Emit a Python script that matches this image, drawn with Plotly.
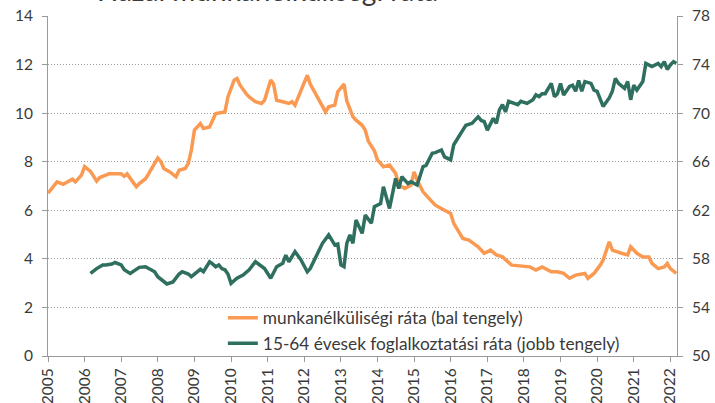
import plotly.graph_objects as go

# Unemployment rate (left axis, %)
unemp_dates = ["2005-01","2005-03","2005-04","2005-06","2005-08","2005-09","2005-10","2005-12",
"2006-01","2006-03","2006-05","2006-06","2006-08","2006-09","2007-01","2007-02","2007-03","2007-04",
"2007-06","2007-07","2007-09","2007-10","2007-12","2008-01","2008-02","2008-03","2008-05","2008-07",
"2008-08","2008-10","2008-11","2008-12","2009-01","2009-03","2009-04","2009-06","2009-08","2009-09",
"2009-11","2009-12","2010-02","2010-03","2010-04","2010-06","2010-07","2010-09","2010-11","2010-12",
"2011-02","2011-03","2011-04","2011-06","2011-08","2011-09","2011-10","2011-12","2012-02","2012-03",
"2012-05","2012-07","2012-08","2012-09","2012-11","2012-12","2013-02","2013-03","2013-05","2013-06",
"2013-08","2013-09","2013-10","2013-12","2014-01","2014-02","2014-03","2014-05","2014-07","2014-08",
"2014-10","2014-12","2015-01","2015-02","2015-04","2015-06","2015-08","2015-11","2016-01","2016-02",
"2016-05","2016-07","2016-10","2016-12","2017-02","2017-04","2017-06","2017-09","2018-01","2018-03",
"2018-05","2018-07","2018-10","2018-12","2019-02","2019-04","2019-06","2019-09","2019-10","2019-12",
"2020-02","2020-03","2020-05","2020-06","2020-09","2020-11","2020-12","2021-02","2021-04","2021-06",
"2021-07","2021-09","2021-11","2021-12","2022-01","2022-03"]
unemp_values = [6.7,7.0,7.17,7.07,7.2,7.28,7.17,7.45,
7.8,7.6,7.2,7.35,7.45,7.5,7.5,7.4,7.5,7.3,
6.97,7.1,7.3,7.5,7.93,8.15,8.0,7.72,7.58,7.38,
7.65,7.72,7.93,8.48,9.3,9.57,9.37,9.43,9.98,10.0,
10.05,10.67,11.36,11.43,11.15,10.8,10.67,10.47,10.4,10.53,
11.36,11.2,10.53,10.47,10.4,10.47,10.33,10.95,11.56,11.2,
10.74,10.33,10.05,10.26,10.33,10.88,11.2,10.5,9.85,9.71,
9.5,9.3,8.85,8.45,8.07,7.93,7.79,7.86,7.52,7.04,
6.9,7.04,7.58,7.24,6.76,6.48,6.21,6.0,5.87,5.46,
4.84,4.77,4.5,4.23,4.36,4.16,4.08,3.74,3.67,3.67,
3.54,3.67,3.47,3.47,3.4,3.2,3.33,3.4,3.2,3.4,
3.74,3.95,4.7,4.36,4.23,4.16,4.5,4.23,4.08,4.08,
3.81,3.6,3.67,3.81,3.6,3.4]

# Employment rate 15-64 (right axis, %)
emp_dates = ["2006-03","2006-05","2006-07","2006-08","2006-10","2006-11","2007-01","2007-02","2007-04",
"2007-06","2007-07","2007-09","2007-12","2008-01","2008-03","2008-04","2008-06","2008-08","2008-09",
"2008-11","2008-12","2009-02","2009-03","2009-04","2009-06","2009-07","2009-08","2009-09","2009-10",
"2009-11","2009-12","2010-01","2010-03","2010-05","2010-07","2010-09","2010-12","2011-02","2011-04",
"2011-06","2011-07","2011-08","2011-10","2011-12","2012-02","2012-03","2012-05","2012-07","2012-09",
"2012-11","2012-12","2013-01","2013-02","2013-03","2013-04","2013-05","2013-06","2013-08","2013-09",
"2013-11","2013-12","2014-02","2014-03","2014-05","2014-07","2014-08","2014-09","2014-11","2014-12",
"2015-02","2015-04","2015-05","2015-07","2015-08","2015-10","2015-11","2016-01","2016-02","2016-05",
"2016-06","2016-08","2016-10","2016-11","2016-12","2017-01","2017-03","2017-04","2017-05","2017-06",
"2017-07","2017-08","2017-10","2017-11","2017-12","2018-02","2018-04","2018-05","2018-06","2018-07",
"2018-08","2018-10","2018-11","2018-12","2019-01","2019-02","2019-04","2019-05","2019-06","2019-07",
"2019-08","2019-09","2019-11","2019-12","2020-01","2020-03","2020-05","2020-06","2020-07","2020-08",
"2020-10","2020-11","2020-12","2021-01","2021-02","2021-04","2021-05","2021-07","2021-09","2021-10",
"2021-11","2021-12","2022-01","2022-02","2022-03"]
emp_values = [56.8,57.2,57.5,57.5,57.58,57.7,57.5,57.1,56.8,
57.1,57.3,57.35,56.94,56.53,56.1,55.93,56.1,56.75,56.94,
56.75,56.53,56.94,57.14,56.94,57.76,57.58,57.35,57.5,57.2,
57.1,56.75,55.98,56.4,56.67,57.1,57.76,57.2,56.4,57.35,
57.63,58.3,57.76,58.6,57.9,56.94,57.2,58.3,59.28,59.97,
59.14,59.22,57.5,57.35,59.28,59.97,59.28,61.2,60.1,61.6,
60.93,62.3,62.56,63.93,62.15,64.62,63.8,64.76,64.2,64.35,
64.08,65.6,65.7,66.7,66.75,66.97,66.4,66.15,67.4,68.6,
69.0,69.16,69.7,69.4,69.3,68.6,69.57,69.16,70.26,70.7,
70.1,70.97,70.8,70.7,70.97,70.8,71.1,71.5,71.36,71.6,
71.6,72.45,71.36,71.6,72.45,71.5,72.2,72.3,71.8,72.7,
71.8,72.6,72.45,71.9,71.8,70.55,71.25,71.8,72.86,72.45,
72.04,72.6,71.1,72.3,71.9,72.6,74.1,73.83,74.1,73.83,
74.24,73.6,73.97,74.24,74.1]

left_ticks = [0, 2, 4, 6, 8, 10, 12, 14]
right_ticks = [50, 54, 58, 62, 66, 70, 74, 78]

ORANGE = "#FA9A52"
GREEN = "#2F6F5F"
AXIS = "#9A9A9A"
TXT = "#3A3A3A"
FONT = "Lato"

fig = go.Figure()
fig.add_trace(go.Scatter(x=unemp_dates, y=unemp_values, mode="lines",
                         name="munkanélküliségi ráta (bal tengely)",
                         line=dict(color=ORANGE, width=3.5), yaxis="y"))
fig.add_trace(go.Scatter(x=emp_dates, y=emp_values, mode="lines",
                         name="15-64 évesek foglalkoztatási ráta (jobb tengely)",
                         line=dict(color=GREEN, width=3.5), yaxis="y2"))

fig.update_layout(
    width=715, height=403,
    margin=dict(l=48, r=38, t=16, b=47),
    paper_bgcolor="white", plot_bgcolor="white",
    font=dict(family=FONT, size=15, color=TXT),
    showlegend=True,
    legend=dict(x=0.278, y=0.165, xanchor="left", yanchor="top",
                bgcolor="rgba(0,0,0,0)", font=dict(size=17.3, color=TXT),
                tracegroupgap=0, itemwidth=30),
    xaxis=dict(type="date", range=["2005-01-01", "2022-03-08"], automargin=False,
               tick0="2005-01-01", dtick="M12", tickformat="%Y", tickangle=-90,
               showgrid=False, showline=True, linecolor=AXIS, linewidth=1,
               ticks="outside", ticklen=5, tickcolor=AXIS,
               tickfont=dict(size=15.5, color=TXT), zeroline=False),
    yaxis=dict(range=[0, 14], tickvals=left_ticks, showgrid=True, automargin=False,
               gridcolor="#9A9A9A", griddash="1px,2px", gridwidth=1,
               showline=True, linecolor=AXIS, linewidth=1,
               ticks="outside", ticklen=5, tickcolor=AXIS, zeroline=False,
               ticklabelstandoff=6, tickfont=dict(size=15.5, color=TXT)),
    yaxis2=dict(range=[50, 78], tickvals=right_ticks, overlaying="y", side="right",
                showgrid=False, showline=True, linecolor=AXIS, linewidth=1, automargin=False,
                ticks="outside", ticklen=5, tickcolor=AXIS, zeroline=False,
                ticklabelstandoff=6, tickfont=dict(size=15.5, color=TXT)),
    annotations=[dict(text="Hazai munkanélküliségi ráta", xref="paper", yref="paper",
                      x=(95 - 48) / 629, y=(356 - 9) / 340, xanchor="left", yanchor="bottom",
                      showarrow=False, font=dict(size=28, color=TXT, family=FONT))],
)

fig.write_html("out.html", config={"displayModeBar": False},
               post_script="document.body.style.margin='0';")
